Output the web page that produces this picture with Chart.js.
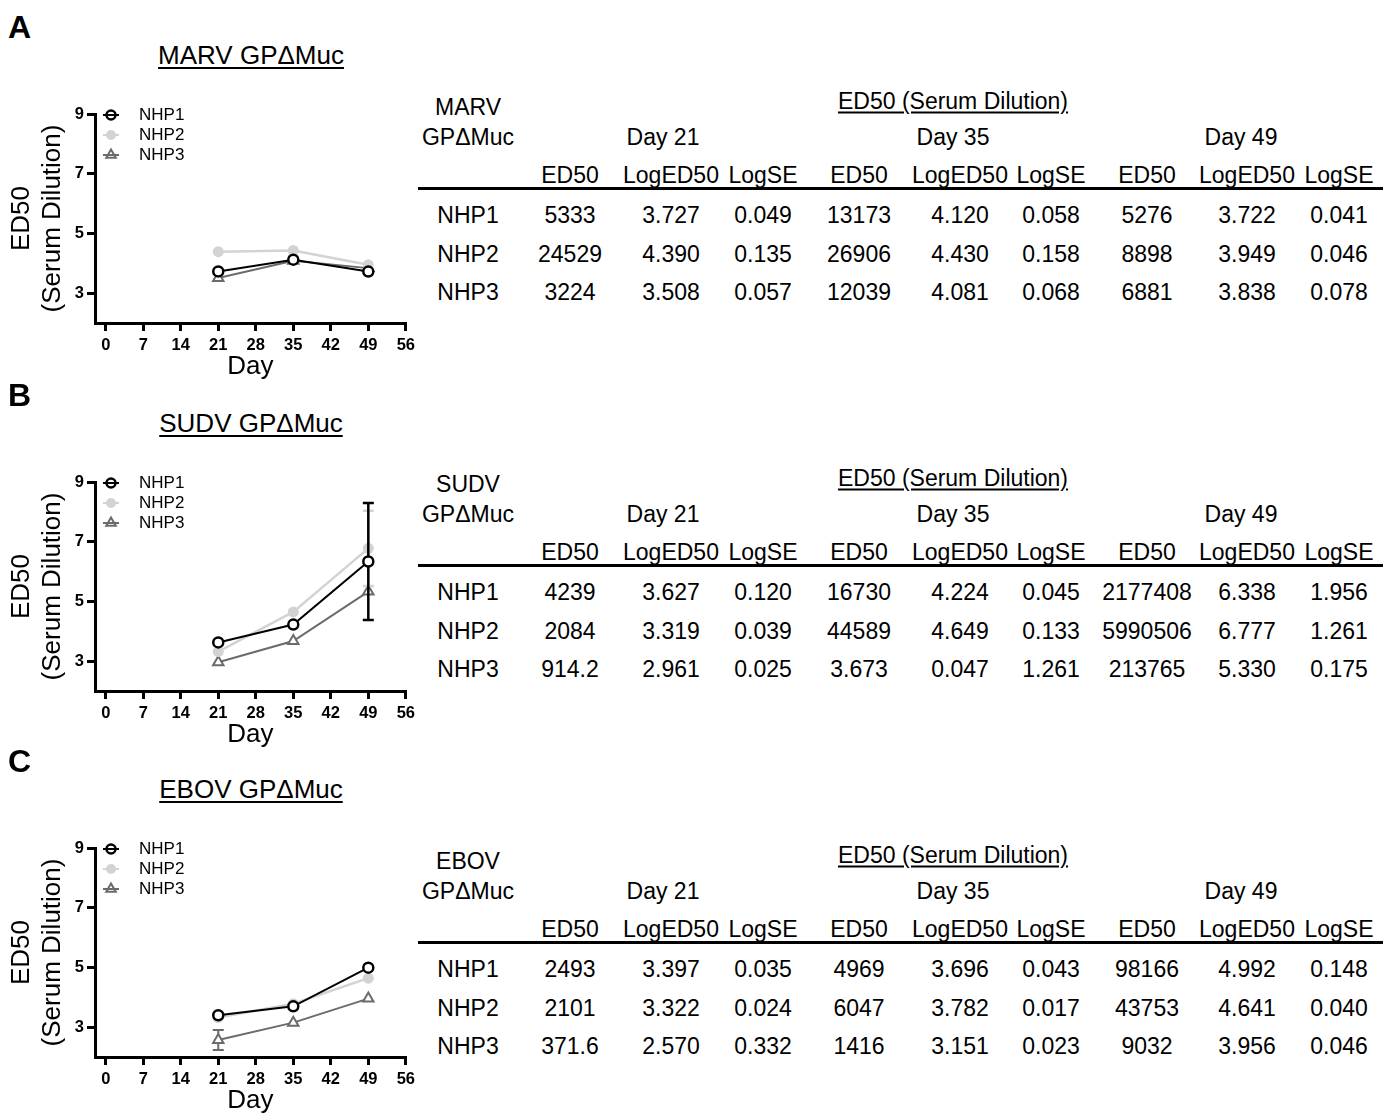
<!DOCTYPE html>
<html>
<head>
<meta charset="utf-8">
<script src="https://cdn.jsdelivr.net/npm/chart.js@4"></script>
<style>
  html, body { margin: 0; padding: 0; background: #fff; }
  body { width: 1392px; height: 1118px; position: relative; overflow: hidden;
         font-family: 'Liberation Sans', Arial, Helvetica, sans-serif; color: #000; }
  .t { position: absolute; white-space: nowrap; line-height: 1; transform: translate(-50%, -50%); }
  .letter { position: absolute; font-weight: bold; font-size: 32px; line-height: 1; transform: translateY(-50%); }
  .title { font-size: 26px; text-decoration: underline; text-decoration-thickness: 2px; text-underline-offset: 3px; }
  .tab { font-size: 23px; }
  .ul { text-decoration: underline; text-decoration-thickness: 1.5px; text-underline-offset: 3px; }
  .rule { position: absolute; height: 3px; background: #000; }
  canvas { position: absolute; left: 0; }
</style>
</head>
<body>
<script>
// ---- data ----
const days = [21, 35, 49];
const animals = ['NHP1', 'NHP2', 'NHP3'];
const xTicks = [0, 7, 14, 21, 28, 35, 42, 49, 56];
const yTicks = [3, 5, 7, 9];
const columnHeads = ['ED50', 'LogED50', 'LogSE'];

// log10 ED50 per animal at days 21 / 35 / 49, with log standard errors
const marvNHP1 = [3.727, 4.120, 3.722];
const marvNHP2 = [4.390, 4.430, 3.949];
const marvNHP3 = [3.508, 4.081, 3.838];
const marvSE1 = [0.049, 0.058, 0.041];
const marvSE2 = [0.135, 0.158, 0.046];
const marvSE3 = [0.057, 0.068, 0.078];

const sudvNHP1 = [3.627, 4.224, 6.338];
const sudvNHP2 = [3.319, 4.649, 6.777];
const sudvNHP3 = [2.961, 3.673, 5.330];
const sudvSE1 = [0.120, 0.045, 1.956];
const sudvSE2 = [0.039, 0.133, 1.261];
const sudvSE3 = [0.025, 0.047, 0.175];

const ebovNHP1 = [3.397, 3.696, 4.992];
const ebovNHP2 = [3.322, 3.782, 4.641];
const ebovNHP3 = [2.570, 3.151, 3.956];
const ebovSE1 = [0.035, 0.043, 0.148];
const ebovSE2 = [0.024, 0.017, 0.040];
const ebovSE3 = [0.332, 0.023, 0.046];

// table cells: ED50, LogED50, LogSE for day 21, 35, 49
const marvTable = [
  ['5333', '3.727', '0.049', '13173', '4.120', '0.058', '5276', '3.722', '0.041'],
  ['24529', '4.390', '0.135', '26906', '4.430', '0.158', '8898', '3.949', '0.046'],
  ['3224', '3.508', '0.057', '12039', '4.081', '0.068', '6881', '3.838', '0.078']
];
const sudvTable = [
  ['4239', '3.627', '0.120', '16730', '4.224', '0.045', '2177408', '6.338', '1.956'],
  ['2084', '3.319', '0.039', '44589', '4.649', '0.133', '5990506', '6.777', '1.261'],
  ['914.2', '2.961', '0.025', '3.673', '0.047', '1.261', '213765', '5.330', '0.175']
];
const ebovTable = [
  ['2493', '3.397', '0.035', '4969', '3.696', '0.043', '98166', '4.992', '0.148'],
  ['2101', '3.322', '0.024', '6047', '3.782', '0.017', '43753', '4.641', '0.040'],
  ['371.6', '2.570', '0.332', '1416', '3.151', '0.023', '9032', '3.956', '0.046']
];

// ---- panels ----
const FONT = "'Liberation Sans', Arial, Helvetica, sans-serif";
const panels = [
  { letter: 'A', virus: 'MARV', dy: 0,   tdy: 0,   series: [marvNHP1, marvNHP2, marvNHP3], se: [marvSE1, marvSE2, marvSE3], table: marvTable },
  { letter: 'B', virus: 'SUDV', dy: 368, tdy: 377, series: [sudvNHP1, sudvNHP2, sudvNHP3], se: [sudvSE1, sudvSE2, sudvSE3], table: sudvTable },
  { letter: 'C', virus: 'EBOV', dy: 734, tdy: 754, series: [ebovNHP1, ebovNHP2, ebovNHP3], se: [ebovSE1, ebovSE2, ebovSE3], table: ebovTable }
];

const styles = [
  { borderColor: '#000000', borderWidth: 2, pointStyle: 'circle', pointRadius: 5, pointBorderWidth: 2.5,
    pointBackgroundColor: '#ffffff', pointBorderColor: '#000000', legendFill: 'rgba(0,0,0,0)', legendRadius: 4.5, errWidth: 2.5 },
  { borderColor: '#d3d3d3', borderWidth: 2.5, pointStyle: 'circle', pointRadius: 5.5, pointBorderWidth: 0,
    pointBackgroundColor: '#d3d3d3', pointBorderColor: '#d3d3d3', legendFill: '#d3d3d3', legendRadius: 5, errWidth: 2.5 },
  { borderColor: '#6b6b6b', borderWidth: 2, pointStyle: 'triangle', pointRadius: 6, pointBorderWidth: 2,
    pointBackgroundColor: '#ffffff', pointBorderColor: '#6b6b6b', legendFill: 'rgba(0,0,0,0)', legendRadius: 5.5, errWidth: 2 }
];

function addText(txt, x, y, cls) {
  const d = document.createElement('div');
  d.className = 't ' + (cls || '');
  d.textContent = txt;
  d.style.left = x + 'px';
  d.style.top = y + 'px';
  document.body.appendChild(d);
  return d;
}

// error bars are drawn just before each dataset so later series sit on top
const errorBars = {
  id: 'errorBars',
  beforeDatasetDraw(chart, args) {
    const ds = chart.data.datasets[args.index];
    const ys = chart.scales.y;
    const ctx = chart.ctx;
    ctx.save();
    ctx.strokeStyle = ds.borderColor;
    ctx.lineWidth = ds.errWidth;
    args.meta.data.forEach((pt, j) => {
      const v = ds.data[j].y, e = ds.se[j];
      const y1 = ys.getPixelForValue(v + e), y2 = ys.getPixelForValue(v - e);
      if (Math.abs(y2 - y1) / 2 <= ds.pointRadius + 1) return; // hidden behind the symbol
      const x = pt.x;
      ctx.beginPath();
      ctx.moveTo(x, y1); ctx.lineTo(x, y2);
      ctx.moveTo(x - 5.5, y1); ctx.lineTo(x + 5.5, y1);
      ctx.moveTo(x - 5.5, y2); ctx.lineTo(x + 5.5, y2);
      ctx.stroke();
    });
    ctx.restore();
  }
};

// legend in the upper-left corner: line through symbol, then the label
const nhpLegend = {
  id: 'nhpLegend',
  afterDraw(chart) {
    const ctx = chart.ctx, a = chart.chartArea;
    chart.data.datasets.forEach((ds, i) => {
      const y = a.top + 1 + i * 20;
      const x0 = a.left + 8, x1 = a.left + 24;
      ctx.save();
      ctx.strokeStyle = ds.borderColor;
      ctx.lineWidth = 2;
      ctx.beginPath(); ctx.moveTo(x0, y); ctx.lineTo(x1, y); ctx.stroke();
      ctx.fillStyle = ds.legendFill;
      ctx.lineWidth = ds.pointBorderWidth || 1;
      Chart.helpers.drawPoint(ctx, { pointStyle: ds.pointStyle, radius: ds.legendRadius,
        borderWidth: ds.pointBorderWidth, rotation: 0 }, (x0 + x1) / 2, y);
      ctx.fillStyle = '#000';
      ctx.font = '17px ' + FONT;
      ctx.textBaseline = 'middle';
      ctx.textAlign = 'left';
      ctx.fillText(ds.label, a.left + 44, y);
      ctx.restore();
    });
  }
};

const axisCommon = {
  grid: { drawOnChartArea: false, drawTicks: true, tickLength: 8, lineWidth: 3, tickWidth: 3, color: '#000', tickColor: '#000' },
  border: { display: true, color: '#000', width: 3 }
};

function drawPanel(p) {
  // panel letter and underlined plot title
  const L = document.createElement('div');
  L.className = 'letter';
  L.textContent = p.letter;
  L.style.left = '8px';
  L.style.top = (27 + p.dy) + 'px';
  document.body.appendChild(L);
  addText(p.virus + ' GP\u0394Muc', 251, 55 + p.dy, 'title');

  // chart
  const cv = document.createElement('canvas');
  cv.width = 420; cv.height = 302;
  cv.style.top = (80 + p.dy) + 'px';
  document.body.appendChild(cv);

  const datasets = animals.map((name, i) => Object.assign({
    label: name,
    data: days.map((d, j) => ({ x: d, y: p.series[i][j] })),
    se: p.se[i],
    fill: false,
    tension: 0
  }, styles[i]));

  new Chart(cv, {
    type: 'line',
    data: { datasets },
    options: {
      responsive: false,
      animation: false,
      devicePixelRatio: 1,
      layout: { padding: { top: 34, right: 12, left: 0, bottom: 0 } },
      plugins: { legend: { display: false }, tooltip: { enabled: false } },
      scales: {
        x: Object.assign({
          type: 'linear', min: -2, max: 56,
          afterBuildTicks: s => { s.ticks = xTicks.map(v => ({ value: v })); },
          afterFit: s => { s.height = 59; },
          ticks: { color: '#000', font: { family: FONT, size: 16.5, weight: 'bold' }, padding: 5,
                   maxRotation: 0, autoSkip: false },
          title: { display: true, text: 'Day', color: '#000', font: { family: FONT, size: 26, lineHeight: 1.2 }, padding: 0 }
        }, axisCommon),
        y: Object.assign({
          type: 'linear', min: 2, max: 9,
          afterBuildTicks: s => { s.ticks = yTicks.map(v => ({ value: v })); },
          afterFit: s => { s.width = 95; },
          ticks: { color: '#000', font: { family: FONT, size: 16.5, weight: 'bold' }, padding: 3 },
          title: { display: true, text: ['ED50', '(Serum Dilution)'], color: '#000',
                   font: { family: FONT, size: 26, lineHeight: 1.2 }, padding: { top: 6.4, bottom: 0 } }
        }, axisCommon)
      }
    },
    plugins: [errorBars, nhpLegend]
  });

  // summary table
  const o = p.tdy;
  const colX = [570, 671, 763, 859, 960, 1051, 1147, 1247, 1339];
  const dayX = [663, 953, 1241];
  const rowY = [215, 254, 292];
  addText(p.virus, 468, 107 + o, 'tab');
  addText('GP\u0394Muc', 468, 137 + o, 'tab');
  addText('ED50 (Serum Dilution)', 953, 101 + o, 'tab ul');
  days.forEach((d, k) => addText('Day ' + d, dayX[k], 137 + o, 'tab'));
  colX.forEach((x, k) => addText(columnHeads[k % 3], x, 175 + o, 'tab'));
  const r = document.createElement('div');
  r.className = 'rule';
  r.style.left = '418px'; r.style.width = '965px'; r.style.top = (187 + o) + 'px';
  document.body.appendChild(r);
  animals.forEach((name, i) => {
    addText(name, 468, rowY[i] + o, 'tab');
    p.table[i].forEach((cell, k) => addText(cell, colX[k], rowY[i] + o, 'tab'));
  });
}

panels.forEach(drawPanel);
</script>
</body>
</html>
